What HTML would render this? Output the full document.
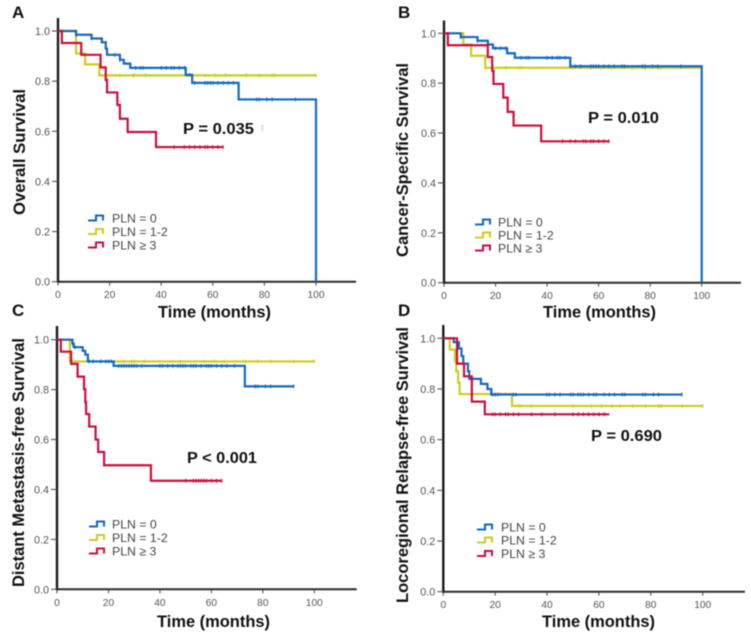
<!DOCTYPE html>
<html lang="en">
<head>
<meta charset="utf-8">
<title>Survival curves by PLN</title>
<style>
html,body{margin:0;padding:0;background:#fff;width:751px;height:639px;overflow:hidden}
svg{display:block;filter:blur(0.45px)}
text{font-family:"Liberation Sans",sans-serif}
</style>
</head>
<body>
<svg id="figure" xmlns="http://www.w3.org/2000/svg" width="751" height="639" viewBox="0 0 751 639"></svg>
<script>
// ---- chart data: step times (months) and survival after each step ----
const xTickLabels = [0, 20, 40, 60, 80, 100];
const yTickLabels = [0.0, 0.2, 0.4, 0.6, 0.8, 1.0];
const seriesNames = ['PLN = 0', 'PLN = 1-2', 'PLN ≥ 3'];

// Panel A
const aBlueTimes = [0, 7, 13, 17, 18.5, 19, 24, 25.5, 28, 49.5, 52, 70, 100, 100];
const aBlueSurv = [1, 0.985, 0.97, 0.955, 0.93, 0.905, 0.885, 0.87, 0.853, 0.825, 0.793, 0.727, 0.727, 0];
const aBlueCensor = [7, 13, 22, 24, 30, 32, 33, 40, 42, 44, 45, 47, 49, 51, 53, 57, 58, 59, 60, 62, 64, 66, 68, 77, 78, 81, 83, 92];
const aYellowTimes = [0, 7, 10.5, 16, 100];
const aYellowSurv = [1, 0.91, 0.867, 0.823, 0.823];
const aYellowCensor = [24, 29, 29.5, 34, 50, 57, 61, 65, 73, 78, 83, 84, 100];
const aRedTimes = [0, 1.5, 9, 16.5, 18.5, 19, 23, 24, 27, 38, 64];
const aRedSurv = [1, 0.952, 0.905, 0.855, 0.805, 0.755, 0.705, 0.65, 0.597, 0.537, 0.537];
const aRedCensor = [45, 49, 51, 53, 55, 57, 58, 60, 62, 64];

// Panel B
const bBlueTimes = [0, 6.5, 13, 17, 19, 24.5, 27.5, 49, 100, 100];
const bBlueSurv = [1, 0.985, 0.97, 0.955, 0.94, 0.92, 0.902, 0.868, 0.868, 0];
const bBlueCensor = [6.5, 13, 17, 20, 22, 24, 30, 32, 33, 40, 42, 44, 45, 47, 49, 51, 53, 57, 58, 59, 60, 62, 64, 66, 69, 70, 77, 78, 81, 83, 92];
const bYellowTimes = [0, 7.5, 10.5, 16, 100];
const bYellowSurv = [1, 0.955, 0.91, 0.862, 0.862];
const bYellowCensor = [24, 29, 30, 50, 57, 61, 65, 73, 78, 83, 84, 100];
const bRedTimes = [0, 1.5, 17, 18.7, 19.2, 23, 24.7, 27, 37.7, 64];
const bRedSurv = [1, 0.952, 0.905, 0.85, 0.797, 0.742, 0.685, 0.63, 0.567, 0.567];
const bRedCensor = [46, 49, 51, 54, 55, 57, 58, 60, 62, 64];

// Panel C
const cBlueTimes = [0, 6, 6.5, 10, 11, 12, 22, 73, 92];
const cBlueSurv = [1, 0.985, 0.97, 0.955, 0.94, 0.913, 0.895, 0.813, 0.813];
const cBlueCensor = [6, 7, 12.5, 14, 17, 19, 20, 21, 24, 25, 26, 27, 28, 29, 30, 31, 33, 40, 41, 43, 45, 47, 48, 49, 50, 52, 53, 54, 56, 58, 59, 60, 62, 64, 66, 69, 77, 78, 81, 83, 92];
const cYellowTimes = [0, 5, 100];
const cYellowSurv = [1, 0.913, 0.913];
const cYellowCensor = [26, 29, 30, 34, 48, 57, 61, 65, 73, 78, 83, 92, 100];
const cRedTimes = [0, 1.5, 5.5, 8, 10.5, 11, 11.3, 12.5, 15, 16, 18.3, 36.5, 64];
const cRedSurv = [1, 0.952, 0.903, 0.852, 0.802, 0.75, 0.702, 0.652, 0.6, 0.55, 0.497, 0.435, 0.435];
const cRedCensor = [50, 53, 54, 55, 56, 57, 58, 60, 62, 64];

// Panel D
const dBlueTimes = [0, 4, 6, 7, 7.7, 9.5, 10, 14.5, 17, 18.5, 92];
const dBlueSurv = [1, 0.985, 0.96, 0.93, 0.9, 0.87, 0.84, 0.82, 0.8, 0.778, 0.778];
const dBlueCensor = [19, 20, 21, 27, 28, 40, 41, 43, 45, 49, 50, 52, 53, 54, 56, 58, 59, 62, 64, 66, 69, 70, 77, 78, 81, 83, 92];
const dYellowTimes = [0, 2.5, 4.5, 5, 5.7, 6.3, 26.5, 100];
const dYellowSurv = [1, 0.955, 0.91, 0.87, 0.825, 0.78, 0.733, 0.733];
const dYellowCensor = [22, 24, 29, 30, 34, 50, 57, 61, 65, 68, 73, 78, 83, 84, 92, 100];
const dRedTimes = [0, 5.3, 8, 11, 16, 64];
const dRedSurv = [1, 0.9, 0.85, 0.75, 0.7, 0.7];
const dRedCensor = [19, 20, 22, 24, 25, 27, 29, 34, 38, 43, 50, 52, 54, 56, 58, 60, 62];

// ---- drawing ----
const NS = 'http://www.w3.org/2000/svg';
const svg = document.getElementById('figure');
const BLUE = '#1569c0', YELLOW = '#cdcc22', RED = '#c80f3e';

function mk(tag, attrs, parent, txt) {
  const el = document.createElementNS(NS, tag);
  for (const k in attrs) el.setAttribute(k, attrs[k]);
  if (txt !== undefined) el.textContent = txt;
  parent.appendChild(el);
  return el;
}

function survivalAt(times, surv, t) {
  let v = surv[0];
  for (let i = 0; i < times.length; i++) {
    if (times[i] <= t && !(times[i] === times[times.length - 1] && surv[i] === 0)) v = surv[i];
  }
  return v;
}

function drawSeries(panel, key, color, times, surv, censor, sx, sy) {
  const g = mk('g', {}, panel);
  
  
  let d = 'M' + sx(times[0]) + ' ' + sy(surv[0]);
  for (let i = 1; i < times.length; i++) {
    d += 'H' + sx(times[i]) + 'V' + sy(surv[i]);
  }
  mk('path', { d: d, fill: 'none', stroke: color, 'stroke-width': 2.2, 'stroke-linejoin': 'miter' }, g);
  censor.forEach(function (t) {
    const y = sy(survivalAt(times, surv, t));
    const m = mk('line', { x1: sx(t), x2: sx(t), y1: y - 1.9, y2: y + 1.9, stroke: color, 'stroke-width': 1.1 }, g);
    
    
  });
}

function drawLegend(panel, id, lx, tx, rows) {
  const colors = [BLUE, YELLOW, RED];
  seriesNames.forEach(function (name, i) {
    const y = rows[i];
    const g = mk('g', {}, panel);
    
    
    const d = 'M' + lx + ' ' + (y + 2.5) + 'H' + (lx + 8) + 'V' + (y - 2.5) + 'H' + (lx + 15) + 'V' + (y + 2.5);
    mk('path', { d: d, fill: 'none', stroke: colors[i], 'stroke-width': 2.1 }, g);
    mk('text', { x: tx, y: y + 4.3, 'font-size': 12.3, fill: '#444' }, g, name);
  });
}

function drawPanel(p) {
  const panel = mk('g', {}, svg);
  
  
  const sx = function (t) { return p.x0 + t * (p.x100 - p.x0) / 100; };
  const sy = function (v) { return p.y0 + v * (p.y1 - p.y0); };

  const xa = mk('line', { x1: p.x0 - 1, x2: p.right, y1: p.y0, y2: p.y0, stroke: '#2b2b2b', 'stroke-width': 2 }, panel);
  
  
  const ya = mk('line', { x1: p.x0, x2: p.x0, y1: p.top, y2: p.y0 + 1, stroke: '#1c1c1c', 'stroke-width': 2.4 }, panel);
  
  

  xTickLabels.forEach(function (t) {
    mk('line', { x1: sx(t), x2: sx(t), y1: p.y0, y2: p.y0 + 4, stroke: '#444', 'stroke-width': 1 }, panel);
    const l = mk('text', { x: sx(t), y: p.y0 + 16.5, 'font-size': 10.2, fill: '#555', 'text-anchor': 'middle' }, panel, String(t));
    
    
  });
  yTickLabels.forEach(function (v) {
    mk('line', { x1: p.x0 - 6, x2: p.x0, y1: sy(v), y2: sy(v), stroke: '#444', 'stroke-width': 1 }, panel);
    const l = mk('text', { x: p.x0 - 8, y: sy(v) + 4, 'font-size': 10.8, fill: '#555', 'text-anchor': 'end' }, panel, v.toFixed(1));
    
    
  });

  drawSeries(panel, 'pln-1-2', YELLOW, p.yellow[0], p.yellow[1], p.yellow[2], sx, sy);
  drawSeries(panel, 'pln-0', BLUE, p.blue[0], p.blue[1], p.blue[2], sx, sy);
  drawSeries(panel, 'pln-3-plus', RED, p.red[0], p.red[1], p.red[2], sx, sy);

  drawLegend(panel, p.id, p.lx, p.tx, p.rows);

  const letter = mk('text', { x: p.letter[0], y: p.letter[1], 'font-size': 17, 'font-weight': 'bold', fill: '#111' }, panel, p.id);
  
  

  const xt = mk('text', { x: p.xt[0], y: p.xt[1], 'font-size': 17, 'font-weight': 'bold', fill: '#111', textLength: p.xt[2], lengthAdjust: 'spacingAndGlyphs' }, panel, 'Time (months)');
  
  

  const yt = mk('text', { transform: 'translate(' + p.yt[0] + ' ' + p.yt[1] + ') rotate(-90)', 'font-size': 17, 'font-weight': 'bold', fill: '#111', textLength: p.yt[2], lengthAdjust: 'spacingAndGlyphs' }, panel, p.ylabel);
  
  

  const pv = mk('text', { x: p.pv[0], y: p.pv[1], 'font-size': 16, 'font-weight': 'bold', fill: '#111', textLength: p.pv[2], lengthAdjust: 'spacingAndGlyphs' }, panel, p.ptext);
  
  
}

drawPanel({ id: 'A', x0: 58, x100: 316, y0: 281.7, y1: 31, top: 18, right: 356, lx: 88, tx: 112, rows: [218, 231.5, 245], letter: [12, 18], xt: [158, 317.5, 113], yt: [25, 215, 126], pv: [183, 134, 71], ylabel: 'Overall Survival', ptext: 'P = 0.035',
  blue: [aBlueTimes, aBlueSurv, aBlueCensor], yellow: [aYellowTimes, aYellowSurv, aYellowCensor], red: [aRedTimes, aRedSurv, aRedCensor] });
drawPanel({ id: 'B', x0: 444, x100: 701.7, y0: 282.7, y1: 33.3, top: 20.5, right: 741, lx: 475, tx: 498, rows: [222, 235, 248], letter: [398, 18], xt: [543, 317.5, 113], yt: [408, 257, 194], pv: [588, 123, 71], ylabel: 'Cancer-Specific Survival', ptext: 'P = 0.010',
  blue: [bBlueTimes, bBlueSurv, bBlueCensor], yellow: [bYellowTimes, bYellowSurv, bYellowCensor], red: [bRedTimes, bRedSurv, bRedCensor] });
drawPanel({ id: 'C', x0: 57, x100: 314.3, y0: 589.3, y1: 339.7, top: 326, right: 356.7, lx: 89, tx: 112, rows: [524, 537.5, 551], letter: [12, 316], xt: [157, 627, 113], yt: [24, 587, 249], pv: [187, 463, 70], ylabel: 'Distant Metastasis-free Survival', ptext: 'P < 0.001',
  blue: [cBlueTimes, cBlueSurv, cBlueCensor], yellow: [cYellowTimes, cYellowSurv, cYellowCensor], red: [cRedTimes, cRedSurv, cRedCensor] });
drawPanel({ id: 'D', x0: 443.3, x100: 702.7, y0: 591.7, y1: 338.3, top: 325, right: 745, lx: 477, tx: 501, rows: [527, 540, 553.5], letter: [398, 316], xt: [542, 627, 113], yt: [408, 603, 276], pv: [591, 441, 71], ylabel: 'Locoregional Relapse-free Survival', ptext: 'P = 0.690',
  blue: [dBlueTimes, dBlueSurv, dBlueCensor], yellow: [dYellowTimes, dYellowSurv, dYellowCensor], red: [dRedTimes, dRedSurv, dRedCensor] });

// small image speck beside the P value in panel A
const speck = mk('line', { x1: 262.5, x2: 262.5, y1: 125, y2: 131, stroke: '#999', 'stroke-width': 1, 'stroke-dasharray': '1.5 1' }, svg);


</script>
</body>
</html>
